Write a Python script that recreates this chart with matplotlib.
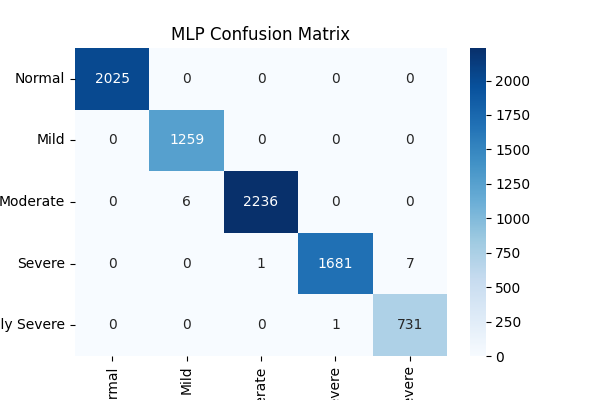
import numpy as np
import matplotlib
matplotlib.use("Agg")
import matplotlib.pyplot as plt
import seaborn as sns

# Class labels and confusion matrix values
labels = ["Normal", "Mild", "Moderate", "Severe", "Extremely Severe"]
row_normal = [2025, 0, 0, 0, 0]
row_mild = [0, 1259, 0, 0, 0]
row_moderate = [0, 6, 2236, 0, 0]
row_severe = [0, 0, 1, 1681, 7]
row_extreme = [0, 0, 0, 1, 731]

cm = np.array([row_normal, row_mild, row_moderate, row_severe, row_extreme])

plt.figure(figsize=(6, 4), dpi=100)
sns.heatmap(cm, annot=True, fmt="d", cmap="Blues",
            xticklabels=labels, yticklabels=labels)
plt.title("MLP Confusion Matrix")
plt.xticks(rotation=90)
plt.yticks(rotation=0)
plt.savefig("out.png", dpi=100)
